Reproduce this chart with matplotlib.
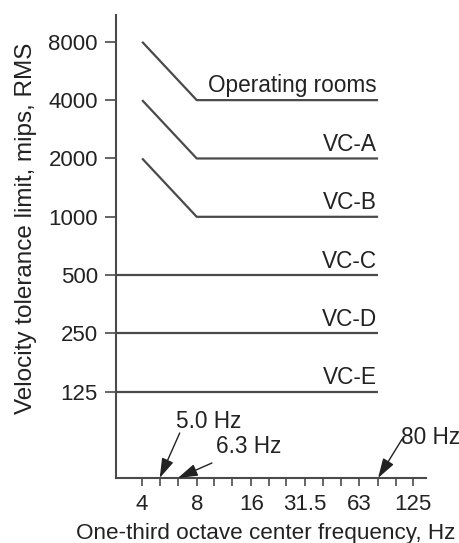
import matplotlib
matplotlib.use("Agg")
import matplotlib.pyplot as plt
from matplotlib.ticker import FixedLocator, FixedFormatter, NullFormatter

plt.rcParams['font.family'] = ['Liberation Sans', 'DejaVu Sans']

# Data
curve_names = ["Operating rooms", "VC-A", "VC-B", "VC-C", "VC-D", "VC-E"]
curve_freqs = [
    [4, 8, 80],
    [4, 8, 80],
    [4, 8, 80],
    [2.87, 80],
    [2.87, 80],
    [2.87, 80],
]
curve_vals = [
    [8000, 4000, 4000],
    [4000, 2000, 2000],
    [2000, 1000, 1000],
    [500, 500],
    [250, 250],
    [125, 125],
]
x_major = [4, 8, 16, 31.5, 63, 125]
x_major_labels = ["4", "8", "16", "31.5", "63", "125"]
x_minor = [5, 6.3, 10, 12.5, 20, 25, 40, 50, 80, 100]
y_ticks = [125, 250, 500, 1000, 2000, 4000, 8000]
y_labels = ["125", "250", "500", "1000", "2000", "4000", "8000"]
arrow_freqs = [5.0, 6.3, 80]
arrow_labels = ["5.0 Hz", "6.3 Hz", "80 Hz"]

line_col = "#4a4a4a"
txt_col = "#222222"
fs = 16.3
fs_tick = 16

fig = plt.figure(figsize=(4.59, 5.43), dpi=100)
ax = fig.add_axes([0.2527, 0.1197, 0.6754, 0.8527])
ax.set_xscale('log', base=2)
ax.set_yscale('log', base=2)
ax.set_xlim(2.87, 147)
ax.set_ylim(44.9, 11000)

for name, xs, ys in zip(curve_names, curve_freqs, curve_vals):
    ax.plot(xs, ys, color=line_col, lw=1.6, solid_capstyle='butt')
    ax.annotate(name, xy=(xs[-1], ys[-1]), xytext=(-1, 5.5), textcoords='offset points',
                ha='right', va='baseline', fontsize=fs, color=txt_col)

ax.xaxis.set_major_locator(FixedLocator(x_major))
ax.xaxis.set_major_formatter(FixedFormatter(x_major_labels))
ax.xaxis.set_minor_locator(FixedLocator(x_minor))
ax.xaxis.set_minor_formatter(NullFormatter())
ax.yaxis.set_major_locator(FixedLocator(y_ticks))
ax.yaxis.set_major_formatter(FixedFormatter(y_labels))
ax.yaxis.set_minor_locator(FixedLocator([]))

ax.tick_params(axis='x', which='both', length=5.5, width=1.2, color=line_col,
               labelsize=fs_tick, pad=6, labelcolor=txt_col)
ax.tick_params(axis='y', which='both', length=8, width=1.2, color=line_col,
               labelsize=fs_tick, pad=5, labelcolor=txt_col)

for s in ['top', 'right']:
    ax.spines[s].set_visible(False)
for s in ['left', 'bottom']:
    ax.spines[s].set_color(line_col)
    ax.spines[s].set_linewidth(1.5)

ax.set_xlabel("One-third octave center frequency, Hz", fontsize=16.2, color=txt_col)
ax.xaxis.set_label_coords(0.484, -0.098)
ax.xaxis.label.set_va('top')
ax.set_ylabel("Velocity tolerance limit, mips, RMS", fontsize=17.5, color=txt_col)
ax.yaxis.set_label_coords(-0.255, 0.54)

# arrow tails and text positions as offsets (points) from the arrow tip
tail_offsets = [(14.4, 32.4), (24.5, 10.8), (17.3, 28)]
text_offsets = [(11.5, 36), (27.4, 18), (16.5, 24.5)]
ybot = ax.get_ylim()[0]
for f, lab, to, tx in zip(arrow_freqs, arrow_labels, tail_offsets, text_offsets):
    ax.annotate('', xy=(f, ybot), xytext=to, textcoords='offset points',
                arrowprops=dict(arrowstyle='-|>,head_length=0.8,head_width=0.25',
                                color=txt_col, lw=1.0,
                                mutation_scale=15, shrinkA=0, shrinkB=0),
                annotation_clip=False)
    ax.annotate(lab, xy=(f, ybot), xytext=tx, textcoords='offset points',
                ha='left', va='baseline', fontsize=fs, color=txt_col,
                annotation_clip=False)

fig.savefig("out.png", dpi=100)
